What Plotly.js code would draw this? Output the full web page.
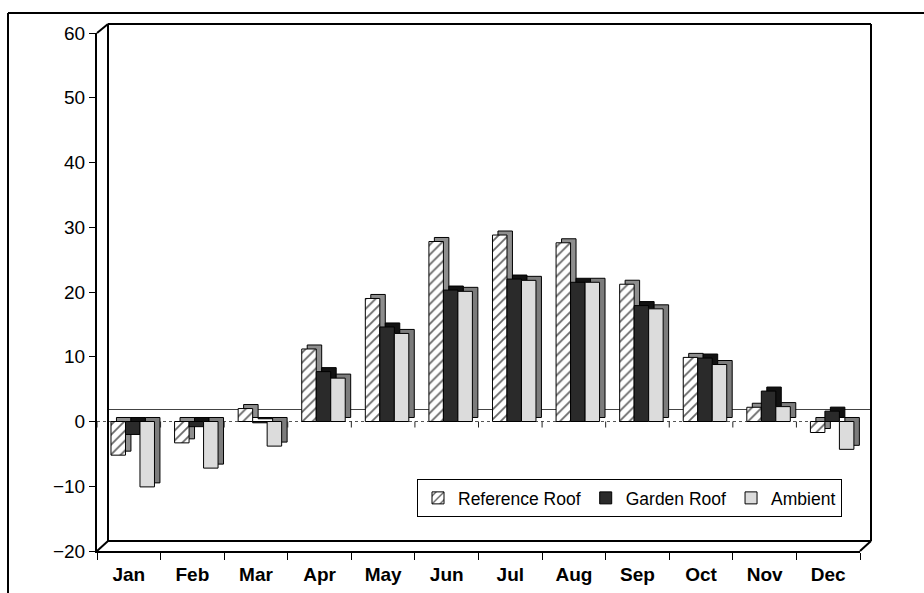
<!DOCTYPE html>
<html><head><meta charset="utf-8">
<script src="https://cdn.plot.ly/plotly-3.0.1.min.js"></script>
<style>html,body{margin:0;padding:0;background:#fff}#chart{width:924px;height:593px}</style>
</head><body><div id="chart"></div>
<script>
// ---- data ----
const months = ['Jan','Feb','Mar','Apr','May','Jun','Jul','Aug','Sep','Oct','Nov','Dec'];
const referenceRoof = [-5.2,-3.3,2.0,11.2,19.0,27.8,28.8,27.6,21.2,9.9,2.2,-1.7];
const gardenRoof    = [-2.0,-0.8,-0.2,7.7,14.6,20.3,22.0,21.5,17.9,9.8,4.7,1.6];
const ambient       = [-10.1,-7.2,-3.8,6.7,13.6,20.1,21.8,21.5,17.4,8.8,2.3,-4.3];
const seriesNames = ['Reference Roof','Garden Roof','Ambient'];
const yTickVals = [-20,-10,0,10,20,30,40,50,60];

// ---- layout geometry ----
const W = 924, H = 593;
const L = 97, R = 64, T = 33, B = 42;
const pw = W - L - R, ph = H - T - B;
const px = x => (x - L) / pw;
const py = y => (H - B - y) / ph;

const barW = 0.228;
const offsets = [-0.28, -0.052, 0.176];
const depthX = 0.086, depthY = 0.62;
const values = [referenceRoof, gardenRoof, ambient];
const depthColors = ['#8e8e8e', '#121212', '#7c7c7c'];
const FONT = 'Arial, Liberation Sans, sans-serif';

const traces = [];
values.forEach((v, i) => {
  traces.push({
    type: 'bar', x: months, y: v, base: depthY,
    offset: offsets[i] + depthX, width: barW,
    marker: {color: depthColors[i], line: {color: '#000', width: 1}},
    showlegend: false, hoverinfo: 'skip'
  });
});
const fronts = [
  {color: '#ffffff', pattern: {shape: '/', bgcolor: '#ffffff', fgcolor: '#666', size: 7, solidity: 0.25}},
  {color: '#2a2a2a'},
  {color: '#dcdcdc'}
];
values.forEach((v, i) => {
  traces.push({
    type: 'bar', x: months, y: v, name: seriesNames[i],
    offset: offsets[i], width: barW,
    marker: Object.assign({line: {color: '#000', width: 1}}, fronts[i])
  });
});

const shapes = [];
const ln = (x0, y0, x1, y1, w, c, layer) => shapes.push({
  type: 'line', xref: 'paper', yref: 'paper',
  x0: px(x0), y0: py(y0), x1: px(x1), y1: py(y1),
  line: {color: c || '#000', width: w || 2}, layer: layer || 'above'
});
// outer border
ln(8, 13, 8, 600, 2);
ln(8, 13, 930, 13, 2);
// 3D box walls
ln(108, 24, 108, 541, 2);
ln(108, 24, 871, 24, 2);
ln(871, 24, 871, 541, 2);
ln(97, 33, 108, 24, 2);
ln(108, 541, 871, 541, 2);
ln(97, 551, 108, 541, 2);
ln(860, 551, 871, 541, 2);
// back zero line
ln(108, 409.5, 871, 409.5, 1, '#444', 'below');
// front zero line
const zeroPaper = 20 / 80;
shapes.push({type: 'line', xref: 'paper', yref: 'paper', x0: 0, x1: 1, y0: zeroPaper, y1: zeroPaper,
  line: {color: '#555', width: 1, dash: 'dot'}, layer: 'below'});
// ticks hanging under the front zero line
for (let k = 0; k <= months.length; k++) {
  shapes.push({type: 'line', xref: 'x', yref: 'paper',
    x0: k - 0.5, x1: k - 0.5, y0: zeroPaper, y1: zeroPaper - 6 / ph,
    line: {color: '#222', width: 1}});
}

const layout = {
  width: W, height: H,
  margin: {l: L, r: R, t: T, b: B, pad: 0},
  paper_bgcolor: '#fff', plot_bgcolor: 'rgba(0,0,0,0)',
  barmode: 'overlay',
  showlegend: true,
  font: {family: FONT, color: '#000'},
  xaxis: {
    type: 'category', range: [-0.5, 11.5], showgrid: false, zeroline: false,
    showline: true, linecolor: '#000', linewidth: 2,
    ticks: 'outside', ticklen: 7, tickwidth: 1, tickcolor: '#000', tickson: 'boundaries',
    ticklabelstandoff: 5,
    tickfont: {family: FONT, size: 19, weight: 'bold', color: '#000'},
    fixedrange: true
  },
  yaxis: {
    range: [-20, 60], tickvals: yTickVals, showgrid: false, zeroline: false,
    showline: true, linecolor: '#000', linewidth: 2,
    ticks: 'outside', ticklen: 6, tickwidth: 1, tickcolor: '#000',
    tickfont: {family: FONT, size: 19, color: '#000'},
    fixedrange: true
  },
  legend: {
    orientation: 'h', x: px(417), y: py(479), xanchor: 'left', yanchor: 'top',
    bordercolor: '#000', borderwidth: 1, bgcolor: '#fff',
    font: {family: FONT, size: 17.5, color: '#000'},
    itemwidth: 30, traceorder: 'normal'
  },
  shapes: shapes
};

Plotly.newPlot('chart', traces, layout, {displayModeBar: false, staticPlot: true});
</script>
</body></html>
